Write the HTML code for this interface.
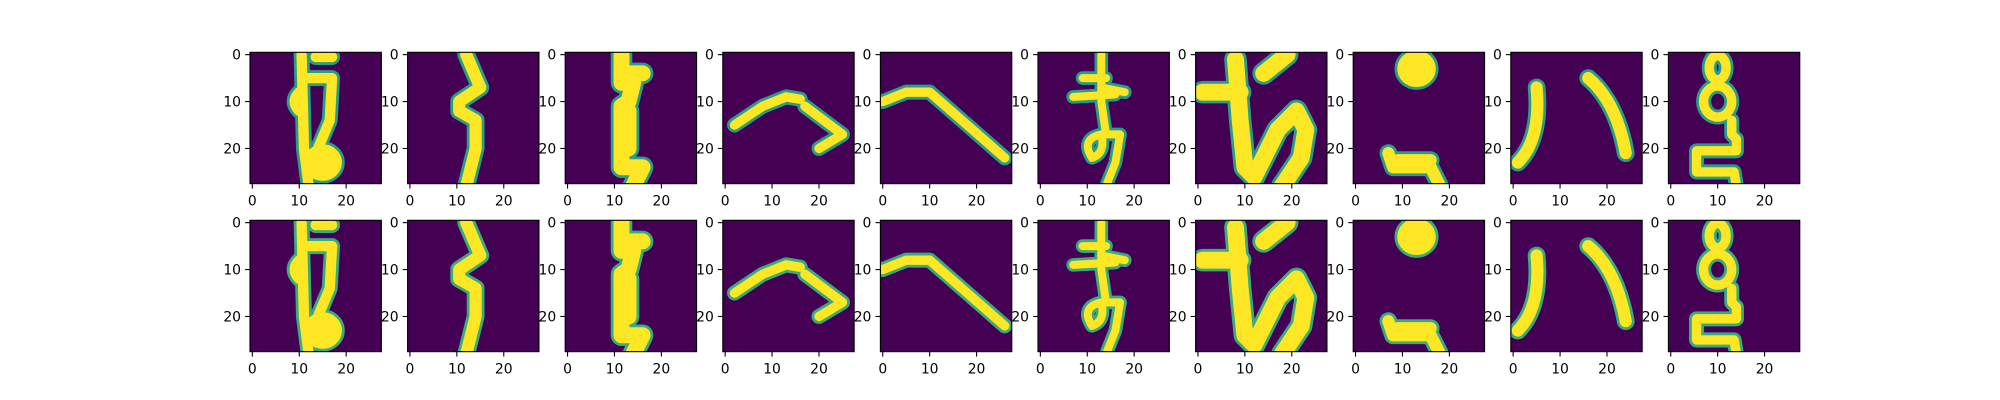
<!DOCTYPE html>
<html><head><meta charset="utf-8">
<style>html,body{margin:0;padding:0;background:#fff;}svg{display:block;}</style>
</head><body>
<svg id="fig" width="2000" height="400" xmlns="http://www.w3.org/2000/svg" style="font-family:'DejaVu Sans','Liberation Sans',sans-serif">
</svg>
<script>
const xTicks = [0, 10, 20];
const yTicks = [0, 10, 20];
const imgSize = 28;
const glyphs = [
 ["M10.5 0 L11 20 L12 28","M11.8 5 L17 5 L16.5 14 L14 20","M10 8 Q8 10 10 12","F15 23 3 2.8","M13.5 0.5 L17 0.5"],
 ["M12 0 L15 7 L10.5 10 L10.5 12 L14 14 L14 20 L12 28"],
 ["M11.5 0 L11.5 4 L16 4","M11.5 4 L11.5 6 L14 6 L13 10 L11.5 11 L11.5 24 L16 24 L14 28","M13 12 L13 20"],
 ["M2 15 L8 11 L13 9 L16 9.5","M17 11 L25 17 L20 20"],
 ["M0 10 L5 8 L10 8 L18 15 L26 22"],
 ["M13 0 L13 10 L14 17","M9 5 L14 5","M7 9 L16 8.5","M13 7 L18 8","M13 17 Q8.5 18 11 22 Q14 21 13 17","M14 17 L17 17 L16 23 L14 28"],
 ["M8 1 L9 14 L10 24 L12 26 L17 16 L21 12 L23 16 L22 22 L18 28","M1 8 L9 8","M14 4 L19 0"],
 ["F13 3 2.8 2.6","M7 21 L8 24 L16 24 L18 28","M9 22.5 L16 22.5"],
 ["M5 7 Q6 18 1 23","M16 5 Q22 10 24 21"],
 ["E10 2.8 1.8 2.6","E10 10 3 3.3","M13 14 L13 17 L14 18 L14 20.5 L5.5 20.5 L5.5 25 L13.5 25 L14 28"]
];
const widths = [2.2,2.6,3.4,2,2,1.7,3.6,2.6,2.6,2];
const NS = "http://www.w3.org/2000/svg";
const svg = document.getElementById('fig');
const axW = 131.36, step = 157.6, x0 = 250;
const rowsY = [52.3, 220.3];
const px = axW / imgSize;
function sx(ax, v){ return ax + (v + 0.5) * px; }
function mk(tag, attrs, parent){ const e = document.createElementNS(NS, tag); for (const k in attrs) e.setAttribute(k, attrs[k]); parent.appendChild(e); return e; }
function drawGlyph(g, paths, w, under, soft){
  const col = under ? (soft ? '#3aab7e' : '#2a9d8a') : '#fde725';
  paths.forEach(p => {
    let el;
    if (p[0] === 'E' || p[0] === 'F') { const a = p.slice(1).trim().split(/\s+/).map(Number);
      el = mk('ellipse', {cx:a[0], cy:a[1], rx:a[2], ry:a[3]}, g);
      el.setAttribute('fill', p[0] === 'F' ? col : 'none');
    } else el = mk('path', {d:p, fill:'none'}, g);
    el.setAttribute('stroke', col);
    el.setAttribute('stroke-width', under ? w + 1.2 : w);
    el.setAttribute('stroke-linecap', 'round');
    el.setAttribute('stroke-linejoin', 'round');
    
    
  });
}
rowsY.forEach((ay, r) => {
  glyphs.forEach((paths, c) => {
    const ax = x0 + c * step;
    const g = mk('g', {}, svg);
    
    
    const inner = mk('svg', {x:ax, y:ay, width:axW, height:axW, viewBox:'-0.5 -0.5 28 28', preserveAspectRatio:'none'}, g);
    mk('rect', {x:-0.5, y:-0.5, width:28, height:28, fill:'#440154'}, inner);
    const gg = mk('g', {}, inner);
    drawGlyph(gg, paths, widths[c], true, r === 1);
    drawGlyph(gg, paths, widths[c], false, r === 1);
    const fr = mk('rect', {x:ax, y:ay, width:axW, height:axW, fill:'none', stroke:'#000', 'stroke-width':1.1}, g);
    
    
    xTicks.forEach(t => {
      const x = sx(ax, t);
      mk('line', {x1:x, x2:x, y1:ay + axW, y2:ay + axW + 4.9, stroke:'#000', 'stroke-width':1.1}, g);
      const tx = mk('text', {x:x, y:ay + axW + 22, 'text-anchor':'middle', 'font-size':13.9, fill:'#000'}, g);
      tx.textContent = t;
      
      
    });
    yTicks.forEach(t => {
      const y = sx(ay, t);
      mk('line', {x1:ax - 4.9, x2:ax, y1:y, y2:y, stroke:'#000', 'stroke-width':1.1}, g);
      const tx = mk('text', {x:ax - 9, y:y + 5, 'text-anchor':'end', 'font-size':13.9, fill:'#000'}, g);
      tx.textContent = t;
      
      
    });
  });
});
</script>
</body></html>
